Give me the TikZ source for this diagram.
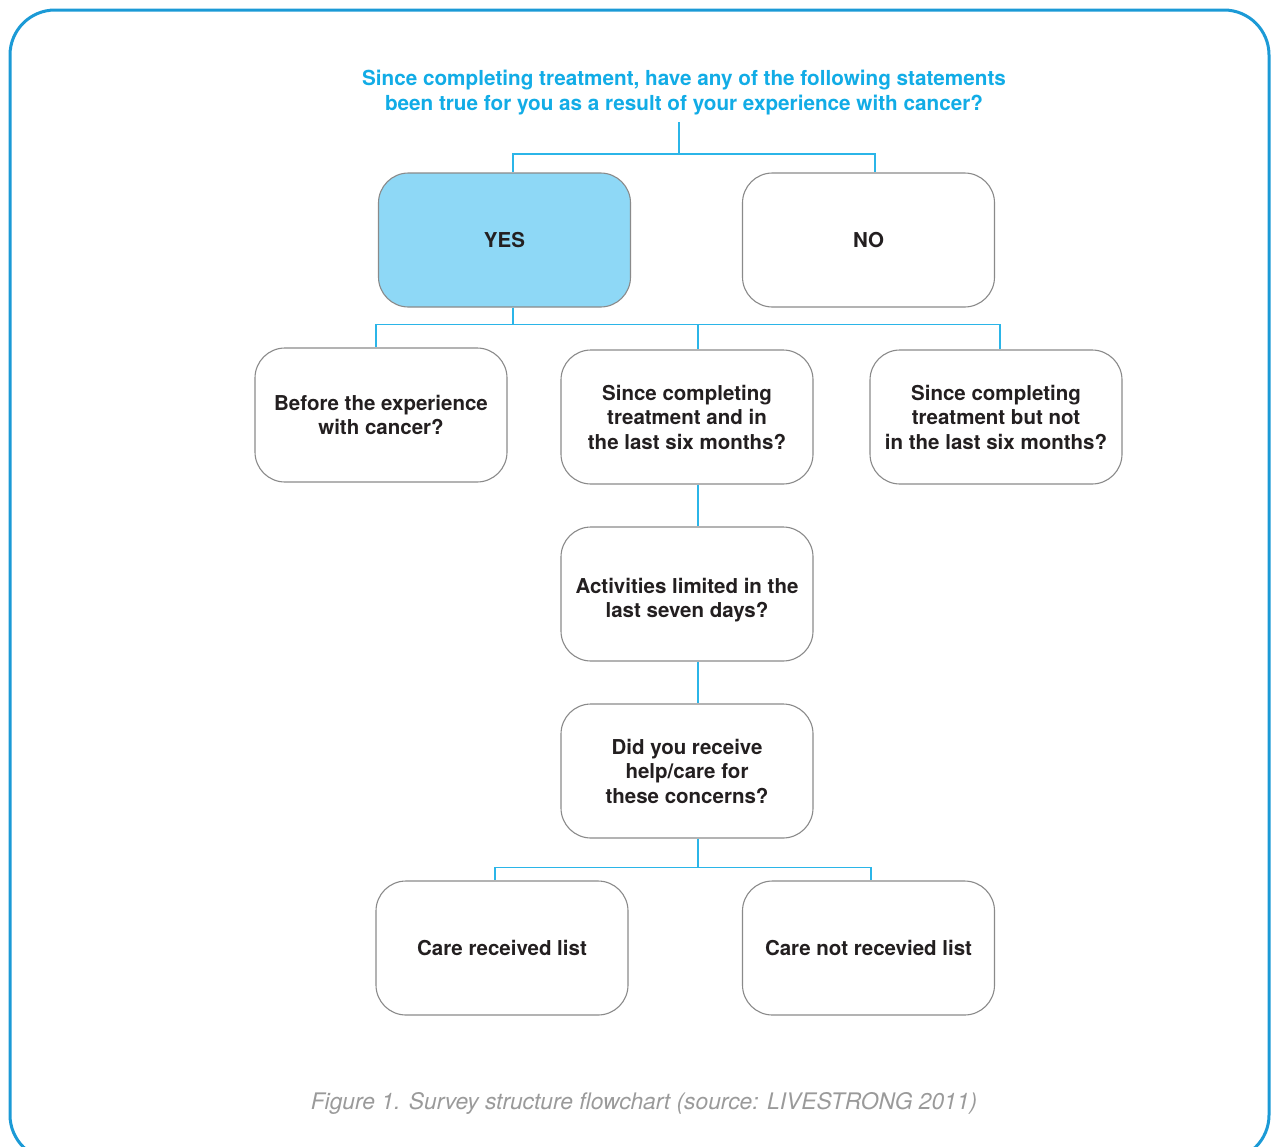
\documentclass[tikz,border=0pt]{standalone}
\usepackage{fontspec}
\setmainfont{TeX Gyre Heros}
\definecolor{titlecyan}{HTML}{12ACE6}
\definecolor{conncol}{HTML}{2BB5E8}
\definecolor{bordercol}{HTML}{1B9AD6}
\definecolor{yesfill}{HTML}{8ED8F6}
\definecolor{boxline}{HTML}{8A8A8A}
\definecolor{txt}{HTML}{231F20}
\definecolor{captioncol}{HTML}{9A9A9A}
\tikzset{
  qbox/.style={draw=boxline, line width=1.1pt, rectangle, rounded corners=30pt,
    minimum width=252pt, minimum height=134pt, align=center, inner sep=0pt,
    text=txt, font=\fontsize{20.5}{24.5}\selectfont\bfseries},
  conn/.style={draw=conncol, line width=1.4pt},
  outer/.style={draw=bordercol, line width=3pt, rounded corners=45pt}
}
\begin{document}
\begin{tikzpicture}[x=1pt,y=-1pt]
\useasboundingbox (0,0) rectangle (1273,1146);
\draw[outer] (10,10) rectangle (1269,1160);
\node[align=center, text=titlecyan, font=\fontsize{20.7}{25}\selectfont\bfseries, inner sep=0pt] (title) at (684,93)
  {Since completing treatment, have any of the following statements\\been true for you as a result of your experience with cancer?};
\coordinate (ts) at (679,122);
\node[qbox, fill=yesfill] (yes) at (504.5,240) {YES};
\node[qbox] (no) at (868.5,240) {NO};
\node[qbox] (before) at (381,415) {Before the experience\\with cancer?};
\node[qbox] (since1) at (687,417) {Since completing\\treatment and in\\the last six months?};
\node[qbox] (since2) at (996,417) {Since completing\\treatment but not\\in the last six months?};
\node[qbox] (act) at (687,594) {\rule{0pt}{27pt}Activities limited in the\\last seven days?};
\node[qbox] (did) at (687,771) {Did you receive\\help/care for\\these concerns?};
\node[qbox] (carer) at (502,948) {Care received list};
\node[qbox] (caren) at (868.5,948) {Care not recevied list};
\node[text=captioncol, font=\fontsize{22.8}{26}\selectfont\itshape, inner sep=0pt] (cap) at (644,1103)
  {Figure 1. Survey structure flowchart (source: LIVESTRONG 2011)};
\draw[conn] (ts) -- ++(0,32) -| ([xshift=8.5pt]yes.north);
\draw[conn] (ts) -- ++(0,32) -| ([xshift=6.5pt]no.north);
\draw[conn] ([xshift=8.5pt]yes.south) -- ++(0,17) -| ([xshift=-5pt]before.north);
\draw[conn] ([xshift=8.5pt]yes.south) -- ++(0,17) -| ([xshift=11pt]since1.north);
\draw[conn] ([xshift=8.5pt]yes.south) -- ++(0,17) -| ([xshift=4pt]since2.north);
\draw[conn] ([xshift=11pt]since1.south) -- ([xshift=11pt]act.north);
\draw[conn] ([xshift=11pt]act.south) -- ([xshift=11pt]did.north);
\draw[conn] ([xshift=11pt]did.south) -- ++(0,29) -| ([xshift=-7pt]carer.north);
\draw[conn] ([xshift=11pt]did.south) -- ++(0,29) -| ([xshift=2.5pt]caren.north);
\end{tikzpicture}
\end{document}
